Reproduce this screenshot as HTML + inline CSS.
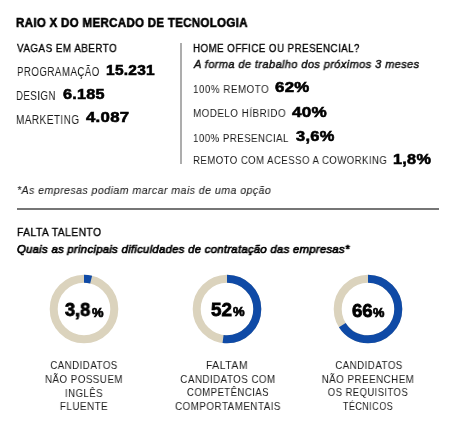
<!DOCTYPE html>
<html><head><meta charset="utf-8"><style>
html,body{margin:0;padding:0;background:#fff;}
body{width:455px;height:430px;position:relative;overflow:hidden;font-family:"Liberation Sans",sans-serif;}
.t{position:absolute;white-space:nowrap;line-height:1;transform-origin:0 0;will-change:transform;}
</style></head><body>
<div style="position:absolute;left:180px;top:43px;width:2px;height:121px;background:#adadad"></div>
<div style="position:absolute;left:17.3px;top:207.6px;width:421.7px;height:2px;background:#767676"></div>
<svg style="position:absolute;left:43.70px;top:268.70px" width="80" height="80" viewBox="0 0 80 80"><circle cx="40" cy="40" r="30.30" fill="none" stroke="#dbd3bd" stroke-width="8"/><circle cx="40" cy="40" r="30.30" fill="none" stroke="#0f4aa6" stroke-width="8" stroke-dasharray="7.23 190.38" transform="rotate(-90 40 40)"/></svg>
<svg style="position:absolute;left:187.20px;top:268.70px" width="80" height="80" viewBox="0 0 80 80"><circle cx="40" cy="40" r="30.30" fill="none" stroke="#dbd3bd" stroke-width="8"/><circle cx="40" cy="40" r="30.30" fill="none" stroke="#0f4aa6" stroke-width="8" stroke-dasharray="99.00 190.38" transform="rotate(-90 40 40)"/></svg>
<svg style="position:absolute;left:328.20px;top:268.70px" width="80" height="80" viewBox="0 0 80 80"><circle cx="40" cy="40" r="30.30" fill="none" stroke="#dbd3bd" stroke-width="8"/><circle cx="40" cy="40" r="30.30" fill="none" stroke="#0f4aa6" stroke-width="8" stroke-dasharray="125.65 190.38" transform="rotate(-90 40 40)"/></svg>

<div class="t" style="left:16.25px;top:16.09px;font-size:13.08px;font-weight:700;font-style:normal;color:#000;letter-spacing:0.3px;-webkit-text-stroke:0.55px #000;transform:scaleX(0.8865);">RAIO X DO MERCADO DE TECNOLOGIA</div>
<div class="t" style="left:16.99px;top:42.32px;font-size:11.63px;font-weight:400;font-style:normal;color:#000;letter-spacing:0.55px;-webkit-text-stroke:0.35px #000;transform:scaleX(0.8486);">VAGAS EM ABERTO</div>
<div class="t" style="left:17.28px;top:65.95px;font-size:12.79px;font-weight:400;font-style:normal;color:#1a1a1a;letter-spacing:0.55px;transform:scaleX(0.7638);">PROGRAMAÇÃO</div>
<div class="t" style="left:106.14px;top:61.76px;font-size:15.12px;font-weight:700;font-style:normal;color:#000;letter-spacing:0.25px;-webkit-text-stroke:0.6px #000;transform:scaleX(1.0262);">15.231</div>
<div class="t" style="left:16.28px;top:89.95px;font-size:12.79px;font-weight:400;font-style:normal;color:#1a1a1a;letter-spacing:0.55px;transform:scaleX(0.7627);">DESIGN</div>
<div class="t" style="left:63.05px;top:86.26px;font-size:15.12px;font-weight:700;font-style:normal;color:#000;letter-spacing:0.25px;-webkit-text-stroke:0.6px #000;transform:scaleX(1.0719);">6.185</div>
<div class="t" style="left:16.28px;top:113.95px;font-size:12.79px;font-weight:400;font-style:normal;color:#1a1a1a;letter-spacing:0.55px;transform:scaleX(0.7846);">MARKETING</div>
<div class="t" style="left:86.00px;top:109.26px;font-size:15.12px;font-weight:700;font-style:normal;color:#000;letter-spacing:0.25px;-webkit-text-stroke:0.6px #000;transform:scaleX(1.1121);">4.087</div>
<div class="t" style="left:192.85px;top:42.32px;font-size:11.63px;font-weight:400;font-style:normal;color:#000;letter-spacing:0.55px;-webkit-text-stroke:0.35px #000;transform:scaleX(0.8384);">HOME OFFICE OU PRESENCIAL?</div>
<div class="t" style="left:194.24px;top:59.35px;font-size:11.34px;font-weight:400;font-style:italic;color:#111;letter-spacing:0.4px;-webkit-text-stroke:0.45px #111;transform:scaleX(0.9740);">A forma de trabalho dos próximos 3 meses</div>
<div class="t" style="left:192.79px;top:82.64px;font-size:11.63px;font-weight:400;font-style:normal;color:#1a1a1a;letter-spacing:0.55px;transform:scaleX(0.8474);">100% REMOTO</div>
<div class="t" style="left:274.58px;top:79.07px;font-size:15.12px;font-weight:700;font-style:normal;color:#000;letter-spacing:0.25px;-webkit-text-stroke:0.6px #000;transform:scaleX(1.1149);">62%</div>
<div class="t" style="left:192.89px;top:107.14px;font-size:11.63px;font-weight:400;font-style:normal;color:#1a1a1a;letter-spacing:0.55px;transform:scaleX(0.8475);">MODELO HÍBRIDO</div>
<div class="t" style="left:291.50px;top:103.76px;font-size:15.12px;font-weight:700;font-style:normal;color:#000;letter-spacing:0.25px;-webkit-text-stroke:0.6px #000;transform:scaleX(1.1331);">40%</div>
<div class="t" style="left:192.79px;top:131.64px;font-size:11.63px;font-weight:400;font-style:normal;color:#1a1a1a;letter-spacing:0.55px;transform:scaleX(0.8351);">100% PRESENCIAL</div>
<div class="t" style="left:296.00px;top:127.57px;font-size:15.12px;font-weight:700;font-style:normal;color:#000;letter-spacing:0.25px;-webkit-text-stroke:0.6px #000;transform:scaleX(1.0875);">3,6%</div>
<div class="t" style="left:193.39px;top:154.14px;font-size:11.63px;font-weight:400;font-style:normal;color:#1a1a1a;letter-spacing:0.55px;transform:scaleX(0.8256);">REMOTO COM ACESSO A COWORKING</div>
<div class="t" style="left:393.48px;top:151.26px;font-size:15.12px;font-weight:700;font-style:normal;color:#000;letter-spacing:0.25px;-webkit-text-stroke:0.6px #000;transform:scaleX(1.0758);">1,8%</div>
<div class="t" style="left:17.17px;top:184.03px;font-size:11.63px;font-weight:400;font-style:italic;color:#1e1e1e;letter-spacing:0.5px;-webkit-text-stroke:0.1px #1e1e1e;transform:scaleX(0.9088);">*As empresas podiam marcar mais de uma opção</div>
<div class="t" style="left:16.80px;top:225.82px;font-size:11.63px;font-weight:400;font-style:normal;color:#000;letter-spacing:0.55px;-webkit-text-stroke:0.35px #000;transform:scaleX(0.8818);">FALTA TALENTO</div>
<div class="t" style="left:17.26px;top:242.81px;font-size:11.63px;font-weight:400;font-style:italic;color:#000;letter-spacing:0.3px;-webkit-text-stroke:0.7px #000;transform:scaleX(0.9725);">Quais as principais dificuldades de contratação das empresas*</div>
<div class="t" style="left:64.50px;top:301.09px;font-size:18.60px;font-weight:700;font-style:normal;color:#000;-webkit-text-stroke:0.8px #000;transform:scaleX(0.9767);">3,8</div>
<div class="t" style="left:91.50px;top:307.23px;font-size:12.21px;font-weight:700;font-style:normal;color:#000;-webkit-text-stroke:0.7px #000;transform:scaleX(1.0592);">%</div>
<div class="t" style="left:211.19px;top:301.33px;font-size:18.60px;font-weight:700;font-style:normal;color:#000;-webkit-text-stroke:0.8px #000;transform:scaleX(1.0129);">52</div>
<div class="t" style="left:232.50px;top:306.23px;font-size:12.21px;font-weight:700;font-style:normal;color:#000;-webkit-text-stroke:0.7px #000;transform:scaleX(1.0660);">%</div>
<div class="t" style="left:351.58px;top:301.66px;font-size:18.60px;font-weight:700;font-style:normal;color:#000;-webkit-text-stroke:0.8px #000;transform:scaleX(1.0025);">66</div>
<div class="t" style="left:373.00px;top:306.73px;font-size:12.21px;font-weight:700;font-style:normal;color:#000;-webkit-text-stroke:0.7px #000;transform:scaleX(1.0484);">%</div>
<div class="t" style="left:-15.88px;top:359.66px;font-size:11.48px;font-weight:400;font-style:normal;color:#1a1a1a;letter-spacing:0.55px;width:200px;text-align:center;transform-origin:50% 0;transform:scaleX(0.8495);">CANDIDATOS</div>
<div class="t" style="left:-16.21px;top:373.66px;font-size:11.48px;font-weight:400;font-style:normal;color:#1a1a1a;letter-spacing:0.55px;width:200px;text-align:center;transform-origin:50% 0;transform:scaleX(0.8525);">NÃO POSSUEM</div>
<div class="t" style="left:-16.39px;top:387.54px;font-size:11.48px;font-weight:400;font-style:normal;color:#1a1a1a;letter-spacing:0.55px;width:200px;text-align:center;transform-origin:50% 0;transform:scaleX(0.8363);">INGLÊS</div>
<div class="t" style="left:-16.12px;top:400.66px;font-size:11.48px;font-weight:400;font-style:normal;color:#1a1a1a;letter-spacing:0.55px;width:200px;text-align:center;transform-origin:50% 0;transform:scaleX(0.8635);">FLUENTE</div>
<div class="t" style="left:127.38px;top:359.66px;font-size:11.48px;font-weight:400;font-style:normal;color:#1a1a1a;letter-spacing:0.55px;width:200px;text-align:center;transform-origin:50% 0;transform:scaleX(0.9162);">FALTAM</div>
<div class="t" style="left:127.58px;top:373.66px;font-size:11.48px;font-weight:400;font-style:normal;color:#1a1a1a;letter-spacing:0.55px;width:200px;text-align:center;transform-origin:50% 0;transform:scaleX(0.8519);">CANDIDATOS COM</div>
<div class="t" style="left:128.20px;top:386.66px;font-size:11.48px;font-weight:400;font-style:normal;color:#1a1a1a;letter-spacing:0.55px;width:200px;text-align:center;transform-origin:50% 0;transform:scaleX(0.8340);">COMPETÊNCIAS</div>
<div class="t" style="left:127.82px;top:400.66px;font-size:11.48px;font-weight:400;font-style:normal;color:#1a1a1a;letter-spacing:0.55px;width:200px;text-align:center;transform-origin:50% 0;transform:scaleX(0.8572);">COMPORTAMENTAIS</div>
<div class="t" style="left:268.62px;top:359.66px;font-size:11.48px;font-weight:400;font-style:normal;color:#1a1a1a;letter-spacing:0.55px;width:200px;text-align:center;transform-origin:50% 0;transform:scaleX(0.8495);">CANDIDATOS</div>
<div class="t" style="left:268.02px;top:373.66px;font-size:11.48px;font-weight:400;font-style:normal;color:#1a1a1a;letter-spacing:0.55px;width:200px;text-align:center;transform-origin:50% 0;transform:scaleX(0.8547);">NÃO PREENCHEM</div>
<div class="t" style="left:267.90px;top:386.66px;font-size:11.48px;font-weight:400;font-style:normal;color:#1a1a1a;letter-spacing:0.55px;width:200px;text-align:center;transform-origin:50% 0;transform:scaleX(0.8240);">OS REQUISITOS</div>
<div class="t" style="left:268.40px;top:400.66px;font-size:11.48px;font-weight:400;font-style:normal;color:#1a1a1a;letter-spacing:0.55px;width:200px;text-align:center;transform-origin:50% 0;transform:scaleX(0.7912);">TÉCNICOS</div>
</body></html>
